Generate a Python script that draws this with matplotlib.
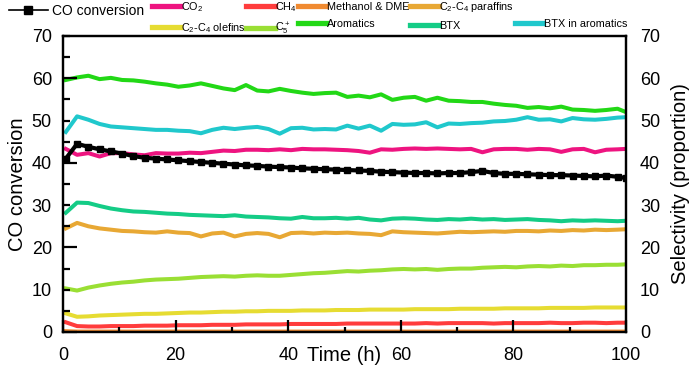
import matplotlib
matplotlib.use("Agg")
import matplotlib.pyplot as plt
from matplotlib.ticker import MultipleLocator, FuncFormatter
from matplotlib.lines import Line2D

plt.rcParams['font.family'] = ['Liberation Sans', 'DejaVu Sans']

time_h = [0.5, 2.5, 4.5, 6.5, 8.5, 10.5, 12.5, 14.5, 16.5, 18.5,
          20.5, 22.5, 24.5, 26.5, 28.5, 30.5, 32.5, 34.5, 36.5, 38.5,
          40.5, 42.5, 44.5, 46.5, 48.5, 50.5, 52.5, 54.5, 56.5, 58.5,
          60.5, 62.5, 64.5, 66.5, 68.5, 70.5, 72.5, 74.5, 76.5, 78.5,
          80.5, 82.5, 84.5, 86.5, 88.5, 90.5, 92.5, 94.5, 96.5, 98.5, 100]

co_conversion = [41.0, 44.5, 43.8, 43.2, 42.7, 42.2, 41.6, 41.2, 41.0, 40.8,
                 40.6, 40.4, 40.2, 40.0, 39.8, 39.6, 39.4, 39.3, 39.1, 39.0,
                 38.9, 38.7, 38.6, 38.5, 38.4, 38.3, 38.2, 38.1, 37.9, 37.8,
                 37.7, 37.6, 37.6, 37.5, 37.6, 37.6, 37.8, 38.1, 37.6, 37.4,
                 37.4, 37.3, 37.2, 37.1, 37.1, 37.0, 36.9, 36.8, 37.0, 36.7, 36.4]

co2 = [43.3, 41.9, 42.3, 41.5, 42.3, 42.3, 42.0, 41.8, 42.3, 42.2,
       42.2, 42.4, 42.3, 42.6, 42.9, 42.8, 43.1, 43.1, 43.0, 43.2,
       43.0, 43.3, 43.2, 43.2, 43.1, 43.0, 42.8, 42.4, 43.2, 43.1,
       43.3, 43.4, 43.3, 43.4, 43.3, 43.2, 43.3, 42.5, 43.2, 43.3,
       43.3, 43.1, 43.3, 43.2, 42.6, 43.2, 43.3, 42.5, 43.1, 43.2, 43.3]

ch4 = [2.3, 1.4, 1.3, 1.3, 1.4, 1.4, 1.4, 1.5, 1.5, 1.5,
       1.6, 1.6, 1.6, 1.7, 1.7, 1.7, 1.8, 1.8, 1.8, 1.8,
       1.9, 1.9, 1.9, 1.9, 1.9, 2.0, 2.0, 2.0, 2.0, 2.0,
       2.0, 2.0, 2.1, 2.0, 2.1, 2.1, 2.1, 2.1, 2.0, 2.1,
       2.1, 2.1, 2.1, 2.2, 2.1, 2.1, 2.2, 2.2, 2.1, 2.2, 2.2]

methanol_dme = [0.2, 0.1, 0.1, 0.1, 0.1, 0.1, 0.1, 0.1, 0.1, 0.1,
                0.1, 0.1, 0.1, 0.1, 0.1, 0.1, 0.1, 0.1, 0.1, 0.1,
                0.1, 0.1, 0.1, 0.1, 0.1, 0.1, 0.1, 0.1, 0.1, 0.1,
                0.1, 0.1, 0.1, 0.1, 0.1, 0.1, 0.1, 0.1, 0.1, 0.1,
                0.1, 0.1, 0.1, 0.1, 0.1, 0.1, 0.1, 0.1, 0.1, 0.1, 0.1]

paraffins = [24.5, 25.8, 25.0, 24.5, 24.2, 23.9, 23.8, 23.6, 23.5, 23.8,
             23.5, 23.4, 22.6, 23.3, 23.5, 22.6, 23.2, 23.4, 23.2, 22.4,
             23.4, 23.5, 23.3, 23.5, 23.4, 23.5, 23.3, 23.2, 22.9, 23.8,
             23.6, 23.5, 23.4, 23.3, 23.5, 23.7, 23.6, 23.7, 23.8, 23.7,
             23.9, 23.9, 23.8, 24.0, 23.9, 24.1, 24.0, 24.2, 24.1, 24.2, 24.3]

olefins = [4.4, 3.6, 3.7, 3.9, 4.0, 4.1, 4.2, 4.3, 4.3, 4.4,
           4.5, 4.6, 4.6, 4.7, 4.8, 4.8, 4.9, 4.9, 5.0, 5.0,
           5.0, 5.1, 5.1, 5.1, 5.2, 5.2, 5.2, 5.3, 5.3, 5.3,
           5.3, 5.4, 5.4, 5.4, 5.4, 5.5, 5.5, 5.5, 5.5, 5.6,
           5.6, 5.6, 5.6, 5.7, 5.7, 5.7, 5.7, 5.8, 5.8, 5.8, 5.8]

c5_plus = [10.3, 9.8, 10.5, 11.0, 11.4, 11.7, 11.9, 12.2, 12.4, 12.5,
           12.6, 12.8, 13.0, 13.1, 13.2, 13.1, 13.3, 13.4, 13.3, 13.3,
           13.5, 13.7, 13.9, 14.0, 14.2, 14.4, 14.3, 14.5, 14.6, 14.8,
           14.9, 14.8, 14.9, 14.7, 14.9, 15.0, 15.0, 15.2, 15.3, 15.4,
           15.3, 15.5, 15.6, 15.5, 15.7, 15.6, 15.8, 15.8, 15.9, 15.9, 16.0]

aromatics = [59.6, 60.2, 60.6, 59.8, 60.1, 59.6, 59.5, 59.2, 58.8, 58.5,
             58.0, 58.3, 58.8, 58.2, 57.6, 57.2, 58.4, 57.1, 56.9, 57.5,
             57.0, 56.6, 56.3, 56.5, 56.6, 55.6, 55.9, 55.5, 56.2, 54.9,
             55.4, 55.6, 54.7, 55.4, 54.7, 54.6, 54.4, 54.4, 54.0, 53.7,
             53.5, 53.0, 53.2, 52.9, 53.3, 52.6, 52.5, 52.3, 52.5, 52.8, 52.0]

btx = [28.2, 30.6, 30.5, 29.8, 29.2, 28.8, 28.5, 28.4, 28.2, 28.0,
       27.9, 27.7, 27.6, 27.5, 27.4, 27.6, 27.3, 27.2, 27.1, 26.9,
       26.8, 27.2, 26.9, 26.9, 27.0, 26.8, 27.0, 26.6, 26.4, 26.8,
       26.9, 26.8, 26.6, 26.5, 26.7, 26.6, 26.8, 26.6, 26.7, 26.5,
       26.6, 26.7, 26.5, 26.4, 26.2, 26.4, 26.3, 26.4, 26.3, 26.2, 26.3]

btx_in_aromatics = [47.3, 51.0, 50.2, 49.2, 48.6, 48.4, 48.2, 48.0, 47.8, 47.8,
                    47.6, 47.5, 47.0, 47.8, 48.3, 48.0, 48.3, 48.5, 48.0, 46.9,
                    48.2, 48.3, 47.9, 48.0, 47.9, 48.8, 48.1, 48.8, 47.6, 49.2,
                    49.0, 49.1, 49.6, 48.4, 49.3, 49.2, 49.4, 49.5, 49.8, 49.9,
                    50.2, 50.8, 50.2, 50.3, 49.8, 50.6, 50.3, 50.2, 50.4, 50.7, 50.8]

series_labels = ['CO$\\mathregular{_2}$', 'CH$\\mathregular{_4}$', 'Methanol & DME',
                 'C$\\mathregular{_2}$-C$\\mathregular{_4}$ paraffins',
                 'C$\\mathregular{_2}$-C$\\mathregular{_4}$ olefins',
                 'C$\\mathregular{_5^+}$', 'Aromatics', 'BTX', 'BTX in aromatics']
series_data = [co2, ch4, methanol_dme, paraffins, olefins, c5_plus, aromatics, btx, btx_in_aromatics]
series_colors = ['#EE1480', '#FF3C3C', '#F08A30', '#E8A834', '#E6DC32',
                 '#9ADF34', '#22D816', '#14CC86', '#20C8CC']

fig = plt.figure(figsize=(6.95, 3.79), dpi=100)
ax = fig.add_axes([63/695, 47/379, 563/695, 296/379])
ax2 = ax.twinx()

handles = []
for lab, data, col in zip(series_labels, series_data, series_colors):
    h, = ax2.plot(time_h, data, color=col, lw=2.9, label=lab, solid_joinstyle='round')
    handles.append(h)

co_line, = ax.plot(time_h, co_conversion, color='black', lw=3, marker='s',
                   markersize=5, label='CO conversion')

ax.set_zorder(ax2.get_zorder() + 1)
ax.patch.set_visible(False)

for a in (ax, ax2):
    a.set_xlim(0, 100)
    a.set_ylim(0, 70)
    for s in a.spines.values():
        s.set_linewidth(1.6)

TICK_FS = 13
LABEL_FS = 14.5

ax.xaxis.set_major_locator(MultipleLocator(20))
ax.xaxis.set_minor_locator(MultipleLocator(10))
ax.yaxis.set_major_locator(MultipleLocator(20))
ax.yaxis.set_minor_locator(MultipleLocator(5))
ax.yaxis.set_minor_formatter(FuncFormatter(lambda v, p: f"{int(round(v))}" if int(round(v)) % 20 == 10 else ""))
ax.tick_params(axis='x', which='major', direction='in', length=9, width=1.6, labelsize=TICK_FS, pad=11)
ax.tick_params(axis='x', which='minor', direction='in', length=3.5, width=1.6)
ax.tick_params(axis='y', which='major', direction='in', length=10, width=1.6, labelsize=TICK_FS, pad=8)
ax.tick_params(axis='y', which='minor', direction='in', length=5, width=1.6, labelsize=TICK_FS, pad=8)
ax.tick_params(top=False, right=False, which='both')

ax2.yaxis.set_major_locator(MultipleLocator(10))
ax2.tick_params(axis='y', which='both', length=0, labelsize=TICK_FS, pad=10)

ax.set_xlabel('Time (h)', fontsize=LABEL_FS, va='center')
ax.xaxis.set_label_coords(0.499, -0.08)
ax.set_ylabel('CO conversion', fontsize=LABEL_FS, va='center')
ax.yaxis.set_label_coords(-0.08, 0.5)
ax2.set_ylabel('Selectivity (proportion)', fontsize=LABEL_FS, va='center', rotation=90)
ax2.yaxis.set_label_coords(1.096, 0.5)

co_proxy = Line2D([], [], color='black', lw=1.2, marker='s', markersize=5.5)
fig.legend(handles=[co_proxy], labels=[co_line.get_label()], loc='upper left',
           bbox_to_anchor=(9/695, 1 - 4/379),
           frameon=False, fontsize=10, handlelength=2.8, handletextpad=0.3,
           borderpad=0, borderaxespad=0)

blank = Line2D([], [], color='none')
order = [handles[0], handles[4], handles[1], handles[5], handles[2], handles[6],
         handles[3], handles[7], blank, handles[8]]
labels = [h.get_label() if h is not blank else '' for h in order]
leg = fig.legend(order, labels, loc='upper left', ncol=5,
                 bbox_to_anchor=(152/695, 1 - 0/379), frameon=False, fontsize=7.8,
                 handlelength=2.6, handletextpad=0.05, columnspacing=0.1,
                 labelspacing=0.65, borderpad=0, borderaxespad=0)
for lh in leg.get_lines():
    lh.set_linewidth(3.8)

fig.savefig('out.png', dpi=100)
